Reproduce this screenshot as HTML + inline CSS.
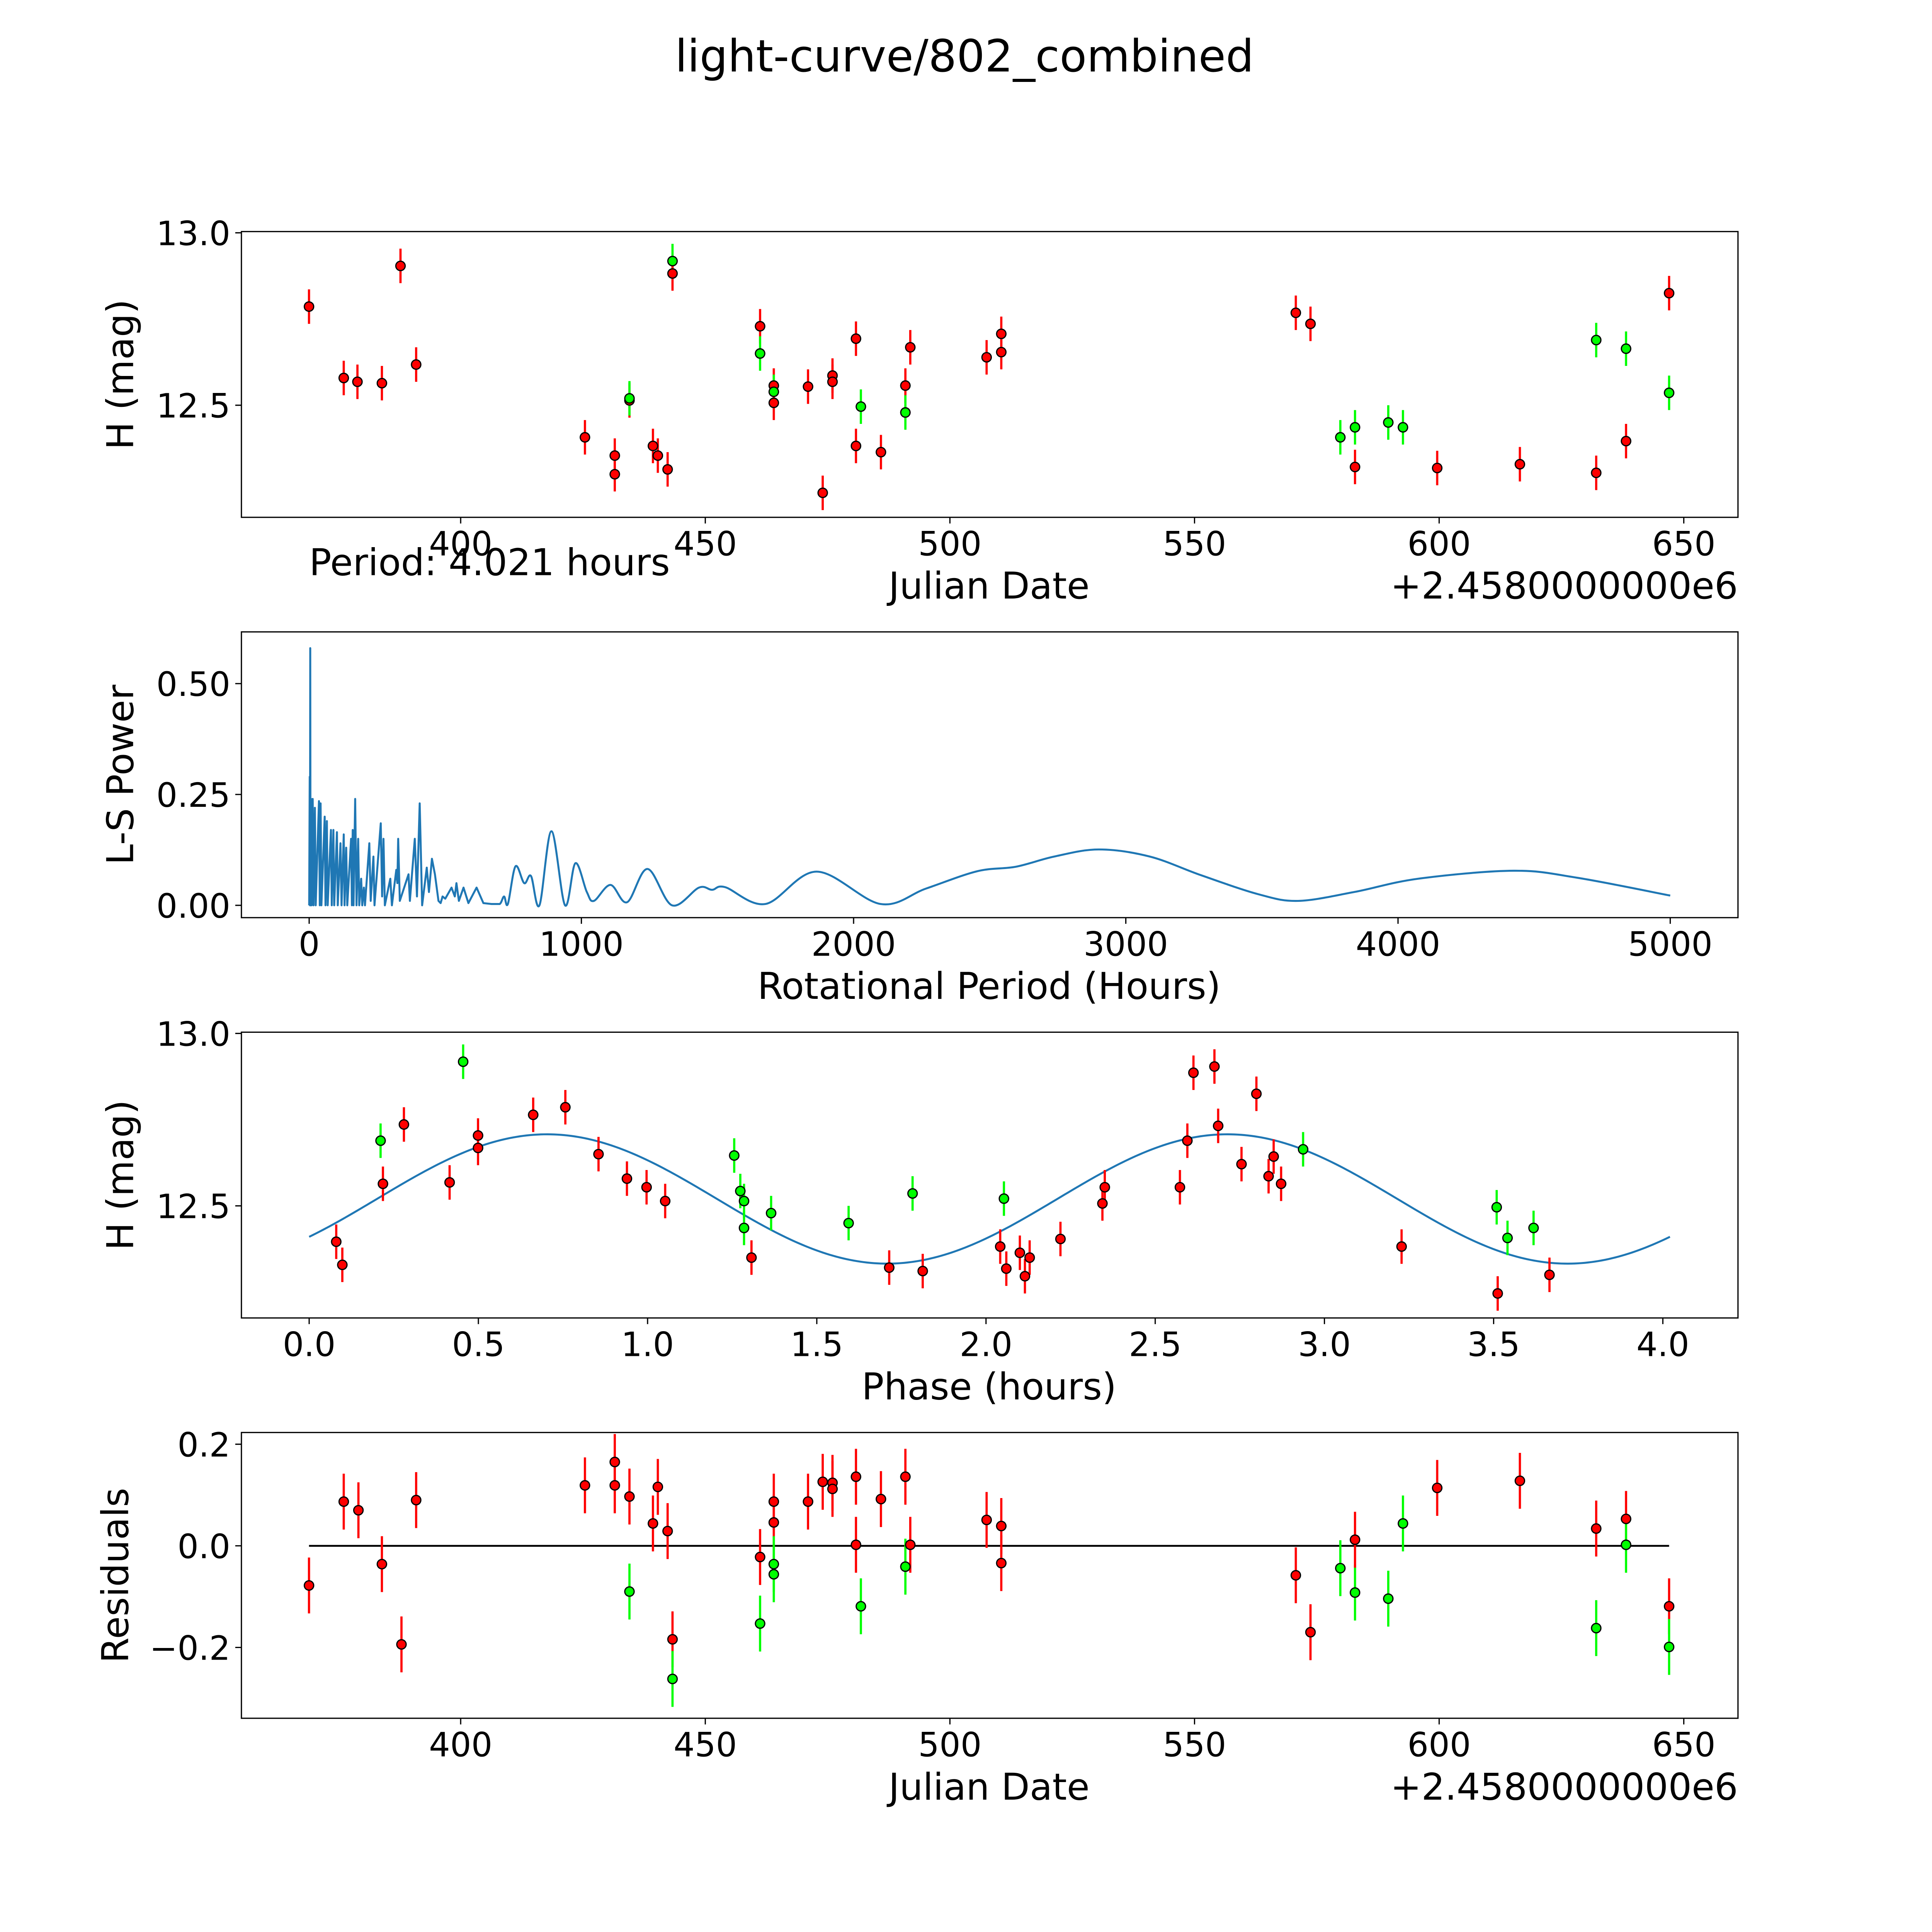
<!DOCTYPE html>
<html><head><meta charset="utf-8"><style>
html,body{margin:0;padding:0;background:#fff;width:5400px;height:5400px;overflow:hidden}
svg{display:block;position:absolute;left:0;top:0;width:5400px;height:5400px}
text{font-family:"DejaVu Sans","Liberation Sans",sans-serif;fill:#000}
</style></head><body>
<svg id="fig" xmlns="http://www.w3.org/2000/svg" width="5400" height="5400" viewBox="0 0 1694 1694" preserveAspectRatio="xMinYMin meet" overflow="hidden">
<rect x="0" y="0" width="1694" height="1694" fill="#fff"/>
<text x="783" y="58" font-size="36" text-anchor="middle">light-curve/802_combined</text>
</svg>
<script>
// ---- Panel 1: light curve ----
const lcDays=[369.0,376.1,378.9,383.9,387.7,390.9,425.4,431.5,431.5,434.5,434.5,439.3,440.3,442.3,443.3,443.3,461.2,461.2,464.0,464.0,464.0,471.0,474.0,476.0,476.0,480.8,480.8,481.8,485.9,490.9,490.9,491.9,507.5,510.5,510.5,570.7,573.7,579.8,582.8,582.8,589.6,592.6,599.6,616.5,632.1,632.1,638.2,638.2,647.0,647.0];
const lcMags=[12.786,12.579,12.568,12.564,12.904,12.618,12.407,12.354,12.300,12.514,12.52,12.382,12.354,12.314,12.918,12.882,12.729,12.65,12.557,12.539,12.507,12.554,12.246,12.586,12.568,12.693,12.382,12.496,12.364,12.557,12.479,12.668,12.639,12.654,12.707,12.768,12.736,12.407,12.436,12.321,12.45,12.436,12.318,12.329,12.689,12.304,12.664,12.396,12.825,12.536];
const lcColors=['r','r','r','r','r','r','r','r','r','r','g','r','r','r','g','r','r','g','r','g','r','r','r','r','r','r','r','g','r','r','g','r','r','r','r','r','r','g','g','r','g','g','r','r','g','r','g','r','r','g'];
const lcErr=0.05;
// ---- Panel 2: periodogram ----
const lsHours=[0,2,3,4,5,7,9,13,16,21,24,36,39,42,45,57,60,65,68,80,83,89,92,102,105,115,119,127,130,136,140,154,157,160,163,169,174,180,184,191,195,201,205,221,226,236,240,263,268,273,278,298,304,320,324,327,333,365,370,388,396,406,415,432,440,451,462,475,483,490,500,523,535,541,550,567,585,615,640,670,700,716,730,758,790,815,846,890,940,978,1020,1046,1107,1168,1243,1333,1432,1480,1528,1676,1864,2099,2267,2455,2596,2737,2901,3088,3276,3487,3633,3839,4074,4425,4660,5000];
const lsPower=[0,0.29,0,0.58,0,0.24,0,0.24,0,0.22,0,0.235,0,0.23,0,0.20,0,0.19,0,0.17,0,0.17,0,0.165,0,0.14,0,0.16,0,0.13,0,0.15,0,0.17,0,0.24,0,0.15,0,0.06,0,0.04,0,0.14,0.01,0.11,0,0.185,0.02,0.15,0,0.06,0,0.08,0.05,0.15,0.01,0.07,0.01,0.15,0.02,0.23,0,0.085,0.03,0.105,0.07,0.01,0.005,0.02,0.015,0.04,0.02,0.05,0.01,0.04,0.005,0.04,0.005,0.003,0.003,0.02,0.003,0.088,0.05,0.066,0,0.167,0,0.095,0.03,0.01,0.046,0.007,0.082,0,0.04,0.035,0.041,0.003,0.076,0.003,0.038,0.077,0.087,0.11,0.126,0.11,0.068,0.025,0.01,0.03,0.06,0.078,0.062,0.022];
// ---- Panel 3: phased ----
const phPhase=[0.080,0.098,0.211,0.218,0.280,0.415,0.455,0.499,0.499,0.662,0.757,0.855,0.939,0.997,1.052,1.256,1.274,1.285,1.285,1.307,1.365,1.594,1.714,1.783,1.813,2.042,2.053,2.060,2.100,2.115,2.129,2.220,2.344,2.351,2.573,2.595,2.613,2.675,2.686,2.755,2.799,2.835,2.850,2.872,2.937,3.228,3.509,3.512,3.541,3.618,3.665];
const phMags=[12.396,12.329,12.689,12.564,12.736,12.568,12.918,12.704,12.668,12.764,12.786,12.650,12.579,12.554,12.514,12.646,12.543,12.514,12.436,12.350,12.479,12.45,12.321,12.536,12.311,12.382,12.521,12.318,12.364,12.296,12.35,12.404,12.507,12.554,12.554,12.689,12.886,12.904,12.732,12.621,12.825,12.586,12.643,12.564,12.664,12.382,12.496,12.246,12.407,12.436,12.3];
const phColors=['r','r','g','r','r','r','g','r','r','r','r','r','r','r','r','g','g','g','g','r','g','g','r','g','r','r','g','r','r','r','r','r','r','r','r','r','r','r','r','r','r','r','r','r','g','r','g','r','g','g','r'];
const modelMean=12.52, modelAmp=0.1875, modelPeriod=4.021, modelPhase0=0.2;
// ---- Panel 4: residuals ----
const resDays=[369.0,376.1,379.1,383.9,387.9,390.9,425.4,431.5,431.5,434.5,434.5,439.3,440.3,442.3,443.3,443.3,461.2,461.2,464.0,464.0,464.0,464.0,471.0,474.0,476.0,476.0,480.8,480.8,481.8,485.9,490.9,490.9,491.9,507.5,510.5,510.5,570.7,573.7,579.8,582.8,582.8,589.6,592.6,599.6,616.5,632.1,632.1,638.2,638.2,647.0,647.0];
const resVals=[-0.078,0.087,0.070,-0.036,-0.194,0.090,0.119,0.165,0.119,0.097,-0.090,0.044,0.116,0.029,-0.184,-0.262,-0.022,-0.153,0.087,0.046,-0.036,-0.056,0.087,0.126,0.124,0.112,0.136,0.002,-0.119,0.092,0.136,-0.041,0.002,0.051,0.039,-0.034,-0.058,-0.170,-0.044,-0.092,0.012,-0.104,0.044,0.114,0.128,0.034,-0.162,0.053,0.002,-0.119,-0.199];
const resColors=['r','r','r','r','r','r','r','r','r','r','g','r','r','r','r','g','r','g','r','r','g','g','r','r','r','r','r','r','g','r','r','g','r','r','r','r','r','r','g','g','r','g','g','r','r','r','g','r','g','r','g'];
const resErr=0.055;

const tickDays=[400,450,500,550,600,650];
const tickHours=[0,1000,2000,3000,4000,5000];
const tickPhase=[0.0,0.5,1.0,1.5,2.0,2.5,3.0,3.5,4.0];
const tickMag=[12.5,13.0];
const tickPow=[0,0.25,0.5];
const tickRes=[-0.2,0,0.2];

const NS='http://www.w3.org/2000/svg';
const svg=document.getElementById('fig');
function mk(tag,attrs,parent){const e=document.createElementNS(NS,tag);for(const k in attrs)e.setAttribute(k,attrs[k]);(parent||svg).appendChild(e);return e;}
const L=196,R=1411;
const xDay=d=>374+(d-400)*3.972;
const y1=h=>329-(h-12.5)*280;
const xHr=h=>251+h*0.221;
const y2=p=>735-p*360;
const xPh=p=>251+p*274.75;
const y3=h=>979-(h-12.5)*280;
const y4=r=>1255-r*412.5;
const COL={r:'#ff0000',g:'#00ff00'};
const TF=27, LF=30;

function panel(name,top,bot){
  const g=mk('g',{});
  
  
  const cp=mk('clipPath',{id:'clip-'+name},g);
  mk('rect',{x:L,y:top,width:R-L,height:bot-top},cp);
  const inner=mk('g',{'clip-path':'url(#clip-'+name+')'},g);
  return {g,inner,top,bot};
}
function frame(p){
  const f=mk('rect',{x:L,y:p.top,width:R-L,height:p.bot-p.top,fill:'none',stroke:'#000','stroke-width':1},p.g);
  
  
}
function xticks(p,vals,fx,fmt,base){
  vals.forEach(v=>{const x=fx(v);
    mk('line',{x1:x,x2:x,y1:p.bot,y2:p.bot+5,stroke:'#000','stroke-width':1},p.g);
    const t=mk('text',{x:x,y:base,'font-size':TF,'text-anchor':'middle'},p.g);
    
    
    t.textContent=fmt(v);});
}
function yticks(p,vals,fy,fmt){
  vals.forEach(v=>{const y=fy(v);
    mk('line',{x1:L-5,x2:L,y1:y,y2:y,stroke:'#000','stroke-width':1},p.g);
    const t=mk('text',{x:L-9,y:y+10,'font-size':TF,'text-anchor':'end'},p.g);
    
    
    t.textContent=fmt(v);});
}
function label(txt,x,y,rot,name,anchor,fs){
  const t=mk('text',{x:x,y:y,'font-size':fs||LF,'text-anchor':anchor||'middle'});
  if(rot)t.setAttribute('transform','rotate(-90 '+x+' '+y+')');
  
  
  t.textContent=txt;return t;
}
function points(p,xs,ys,cols,err,fx,fy){
  xs.forEach((xv,i)=>{const x=fx(xv),c=COL[cols[i]];
    const eb=mk('line',{x1:x,x2:x,y1:fy(ys[i]-err),y2:fy(ys[i]+err),stroke:c,'stroke-width':1.8},p.inner);
    
    
  });
  xs.forEach((xv,i)=>{
    const m=mk('circle',{cx:fx(xv),cy:fy(ys[i]),r:3.8,fill:COL[cols[i]],stroke:'#000','stroke-width':1},p.inner);
    
    
  });
}
const fmt1=v=>v.toFixed(1);
const fmtRes=v=>(v<0?'\u2212':'')+Math.abs(v).toFixed(1);

// Panel 1
const p1=panel('light-curve-panel',188,420);
points(p1,lcDays,lcMags,lcColors,lcErr,xDay,y1);
frame(p1);xticks(p1,tickDays,xDay,v=>String(v),451);yticks(p1,tickMag,y1,fmt1);
label('H (mag)',108,304,true,'y-axis-title-mag');
label('Julian Date',803,486,false,'x-axis-title-date');
label('+2.4580000000e6',1411,486,false,'x-offset-text','end');
label('Period: 4.021 hours',251,467,false,'period-annotation','start');

// Panel 2
const p2=panel('periodogram-panel',513,745);
let d='';let splitIdx=lsHours.findIndex(h=>h>=700);
for(let i=0;i<=splitIdx;i++)d+=(i?'L':'M')+xHr(lsHours[i]).toFixed(2)+' '+y2(lsPower[i]).toFixed(2);
for(let i=splitIdx;i<lsHours.length-1;i++){
  const P=k=>[xHr(lsHours[Math.max(0,Math.min(lsHours.length-1,k))]),y2(lsPower[Math.max(0,Math.min(lsHours.length-1,k))])];
  const p0=P(i-1),a=P(i),b=P(i+1),p3=P(i+2);
  const c1=[a[0]+(b[0]-p0[0])/6,a[1]+(b[1]-p0[1])/6],c2=[b[0]-(p3[0]-a[0])/6,b[1]-(p3[1]-a[1])/6];
  d+='C'+c1.join(' ')+' '+c2.join(' ')+' '+b.join(' ');
}
const ls=mk('path',{d:d,fill:'none',stroke:'#1f77b4','stroke-width':1.6,'stroke-linejoin':'round'},p2.inner);


frame(p2);xticks(p2,tickHours,xHr,v=>String(v),776);yticks(p2,tickPow,y2,v=>v.toFixed(2));
label('L-S Power',108,629,true,'y-axis-title-power');
label('Rotational Period (Hours)',803,811,false,'x-axis-title-period');

// Panel 3
const p3=panel('phased-panel',838,1070);
let md='';
const half=modelPeriod/2;
for(let i=0;i<=400;i++){const ph=modelPeriod*i/400;const h=modelMean+modelAmp*Math.sin(2*Math.PI*(ph-modelPhase0)/half);md+=(i?'L':'M')+xPh(ph).toFixed(2)+' '+y3(h).toFixed(2);}
const ml=mk('path',{d:md,fill:'none',stroke:'#1f77b4','stroke-width':1.6},p3.inner);


points(p3,phPhase,phMags,phColors,lcErr,xPh,y3);
frame(p3);xticks(p3,tickPhase,xPh,fmt1,1101);yticks(p3,tickMag,y3,fmt1);
label('H (mag)',108,954,true,'y-axis-title-mag-phased');
label('Phase (hours)',803,1136,false,'x-axis-title-phase');

// Panel 4
const p4=panel('residuals-panel',1163,1395);
const zl=mk('line',{x1:xDay(369),x2:xDay(647),y1:y4(0),y2:y4(0),stroke:'#000','stroke-width':1.5},p4.inner);


points(p4,resDays,resVals,resColors,resErr,xDay,y4);
frame(p4);xticks(p4,tickDays,xDay,v=>String(v),1426);yticks(p4,tickRes,y4,fmtRes);
label('Residuals',104,1279,true,'y-axis-title-residuals');
label('Julian Date',803,1461,false,'x-axis-title-date-residuals');
label('+2.4580000000e6',1411,1461,false,'x-offset-text-residuals','end');
</script>
</body></html>
